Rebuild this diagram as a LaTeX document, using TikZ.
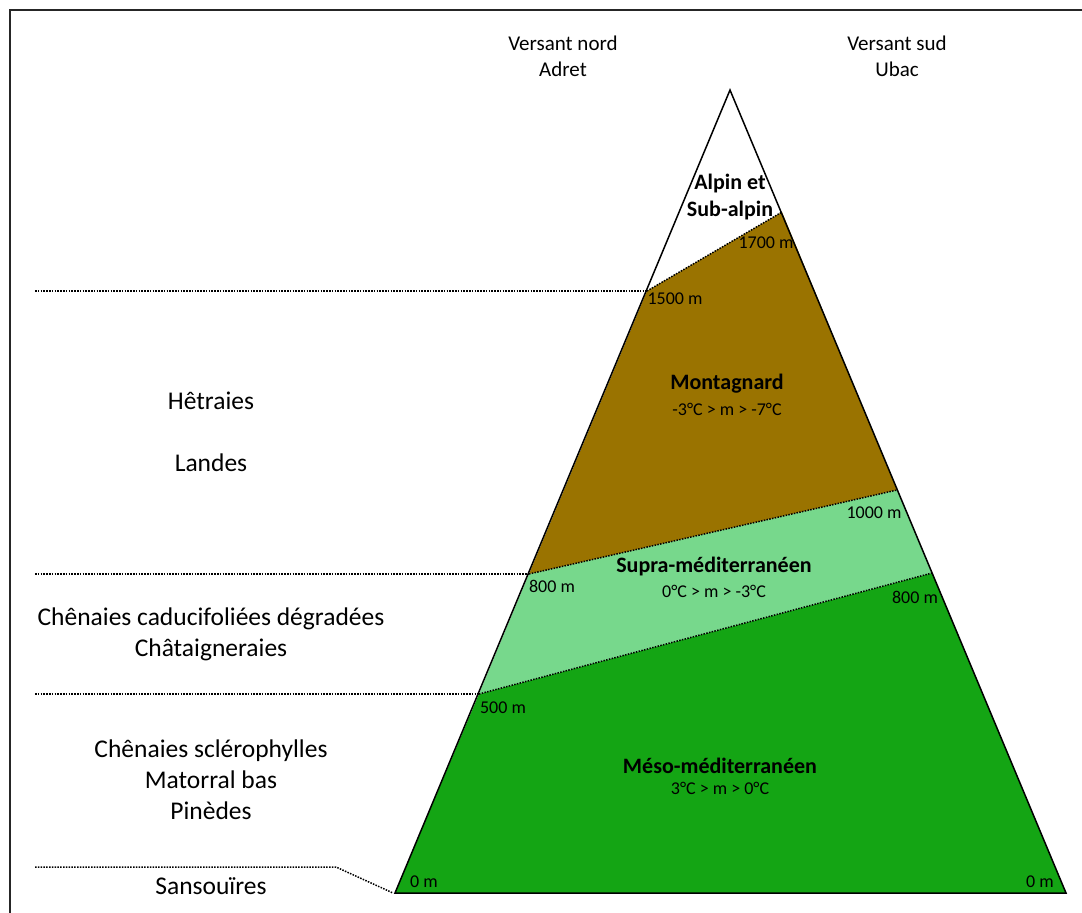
\documentclass[tikz,border=0pt]{standalone}
\usepackage{fontspec}
\setmainfont{Carlito}

\definecolor{montbrown}{HTML}{9A7300}
\definecolor{supragreen}{HTML}{77D88C}
\definecolor{mesogreen}{HTML}{14A514}

\begin{document}
\begin{tikzpicture}[x=1pt,y=-1pt,
  limit/.style={line width=1.5pt, dash pattern=on 1.5pt off 1.3pt},
  zone/.style={font=\bfseries\fontsize{22}{27}\selectfont, align=center, inner sep=0pt},
  temp/.style={font=\fontsize{18}{21}\selectfont, inner sep=0pt},
  alt/.style={font=\fontsize{18}{21}\selectfont, inner sep=0pt},
  veg/.style={font=\fontsize{25.5}{31}\selectfont, align=center, inner sep=0pt},
  side/.style={font=\fontsize{21}{26}\selectfont, align=center, inner sep=0pt}]

\useasboundingbox (0,0) rectangle (1082,913);

% frame
\draw[line width=2pt, black!85] (1082,10) -- (10,10) -- (10,913);

% mountain corners and zone limits
\coordinate (peak) at (730,90);
\coordinate (baseW) at (395,893);
\coordinate (baseE) at (1066,893);
\coordinate (alpW) at (647,291);
\coordinate (alpE) at (782,212);
\coordinate (monW) at (529,574);
\coordinate (monE) at (897,490);
\coordinate (supW) at (479,694);
\coordinate (supE) at (932,573);

\fill[mesogreen] (baseW) -- (supW) -- (supE) -- (baseE) -- cycle;
\fill[supragreen] (supW) -- (monW) -- (monE) -- (supE) -- cycle;
\fill[montbrown] (monW) -- (alpW) -- (alpE) -- (monE) -- cycle;

\draw[limit] (alpW) -- (alpE);
\draw[limit] (monW) -- (monE);
\draw[limit] (supW) -- (supE);

\draw[line width=1.5pt] (baseW) -- (peak) -- (baseE) -- cycle;

% horizontal limits
\coordinate (lim1) at (35,291);
\coordinate (lim2) at (35,574);
\coordinate (lim3) at (35,694);
\coordinate (lim4) at (35,867);
\coordinate (bend) at (336,867);
\draw[limit] (lim1) -- (alpW);
\draw[limit] (lim2) -- (monW);
\draw[limit] (lim3) -- (supW);
\draw[limit] (lim4) -- (bend) -- ([xshift=-2pt]baseW);

% slopes
\node[side] (nord) at (563,56) {Versant nord\\Adret};
\node[side] (sud) at (897,56) {Versant sud\\Ubac};

% zones
\node[zone] (alpin) at (730,197) {Alpin et\\Sub-alpin};
\node[zone] (mont) at (727,384) {Montagnard};
\node[temp] (montT) at (727,409) {-3°C > m > -7°C};
\node[zone] (supra) at (714,567) {Supra-méditerranéen};
\node[temp] (supraT) at (714,591) {0°C > m > -3°C};
\node[zone] (meso) at (720,766) {Méso-méditerranéen};
\node[temp] (mesoT) at (720,788) {3°C > m > 0°C};

% altitudes
\node[alt] (a1700) at (766,243) {1700 m};
\node[alt] (a1500) at (675,299) {1500 m};
\node[alt] (a1000) at (874,513) {1000 m};
\node[alt] (a800W) at (552,586) {800 m};
\node[alt] (a800E) at (915,597) {800 m};
\node[alt] (a500) at (503,708) {500 m};
\node[alt] (a0W) at (424,882) {0 m};
\node[alt] (a0E) at (1040,882) {0 m};

% vegetation
\node[veg] (hetre) at (211,401) {Hêtraies};
\node[veg] (lande) at (211,463) {Landes};
\node[veg] (chene) at (211,634) {Chênaies caducifoliées dégradées\\Châtaigneraies};
\node[veg] (sclero) at (211,780) {Chênaies sclérophylles\\Matorral bas\\Pinèdes};
\node[veg] (sanso) at (211,886) {Sansouïres};

\end{tikzpicture}
\end{document}
